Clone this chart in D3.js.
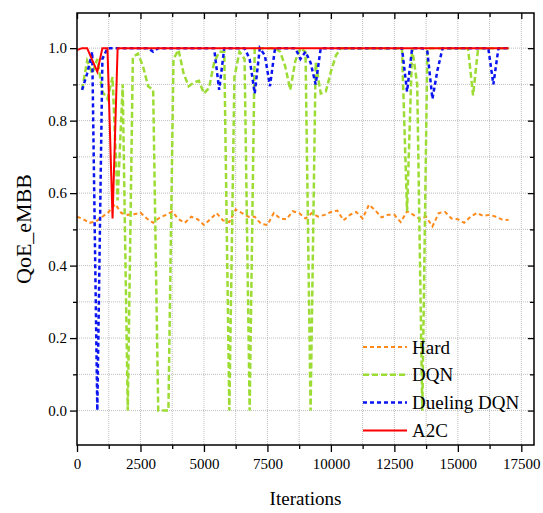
<!DOCTYPE html>
<html>
<head>
<meta charset="utf-8">
<script src="https://d3js.org/d3.v7.min.js"></script>
<style>
  body { margin: 0; background: #fff; }
</style>
</head>
<body>
<svg id="chart" width="543" height="513"></svg>
<script>
// Data
const seriesNames = ["Hard", "DQN", "Dueling DQN", "A2C"];

// Hard: one point every 250 iterations starting at 0
const hardStart = 0, hardStep = 250;
const hardValues = [
  0.535, 0.528, 0.518, 0.522, 0.535, 0.548, 0.570, 0.545, 0.540, 0.542,
  0.546, 0.530, 0.518, 0.532, 0.540, 0.549, 0.528, 0.518, 0.535, 0.528,
  0.512, 0.528, 0.545, 0.525, 0.520, 0.555, 0.545, 0.535, 0.535, 0.515,
  0.512, 0.545, 0.530, 0.528, 0.550, 0.545, 0.530, 0.545, 0.535, 0.540,
  0.548, 0.552, 0.525, 0.540, 0.548, 0.530, 0.568, 0.552, 0.533, 0.540,
  0.540, 0.520, 0.550, 0.540, 0.528, 0.535, 0.508, 0.545, 0.548, 0.530,
  0.528, 0.518, 0.535, 0.545, 0.537, 0.540, 0.535, 0.527, 0.526
];

// DQN / Dueling DQN: one point every 200 iterations starting at 200
const rlStart = 200, rlStep = 200;
const dqnValues = [
  0.885, 0.965, 0.93, 0.97, 0.88, 0.86, 0.92, 0.58, 0.9, 0.0,
  0.975, 0.985, 0.95, 0.895, 0.885, 0.0, 0.0, 0.0, 0.97, 0.995,
  0.93, 0.895, 0.905, 0.91, 0.875, 0.89, 0.96, 0.99, 0.99, 0.0,
  0.92, 0.99, 0.97, 0.0, 1, 1, 1, 1, 1, 0.99,
  0.95, 0.885, 0.965, 1, 0.99, 0.0, 0.96, 0.875, 0.88, 0.935,
  0.98, 1, 1, 1, 1, 1, 1, 1, 1, 1,
  1, 1, 1, 1, 0.55, 1, 0.9, 0.0, 1, 1,
  1, 1, 1, 1, 1, 1, 1, 0.87, 1, 1,
  1, 1, 1, 1, 1
];
const duelingValues = [
  0.885, 0.93, 0.99, 0.0, 0.97, 1, 1, 1, 1, 1,
  1, 1, 1, 1, 0.99, 1, 1, 1, 1, 1,
  1, 1, 1, 1, 1, 1, 1, 0.885, 1, 1,
  1, 1, 1, 0.97, 0.875, 1, 0.98, 0.895, 1, 1,
  1, 1, 1, 0.97, 0.99, 0.96, 0.9, 1, 1, 1,
  1, 1, 1, 1, 1, 1, 1, 1, 1, 1,
  1, 1, 1, 1, 0.88, 1, 1, 1, 0.99, 0.86,
  0.94, 1, 1, 1, 1, 1, 1, 1, 1, 1,
  1, 0.9, 1, 1, 1
];

// A2C: one point every 200 iterations starting at 0
const a2cStart = 0, a2cStep = 200;
const a2cValues = [
  0.995, 1, 1, 0.967, 0.935, 1, 1, 0.53, 1, 1,
  1, 1, 1, 1, 1, 1, 1, 1, 1, 1,
  1, 1, 1, 1, 1, 1, 1, 1, 1, 1,
  1, 1, 1, 1, 1, 1, 1, 1, 1, 1,
  1, 1, 1, 1, 1, 1, 1, 1, 1, 1,
  1, 1, 1, 1, 1, 1, 1, 1, 1, 1,
  1, 1, 1, 1, 1, 1, 1, 1, 1, 1,
  1, 1, 1, 1, 1, 1, 1, 1, 1, 1,
  1, 1, 1, 1, 1, 1
];

const xTicks = [0, 2500, 5000, 7500, 10000, 12500, 15000, 17500];
const yTicks = [0.0, 0.2, 0.4, 0.6, 0.8, 1.0];
const xMinor = [1250, 3750, 6250, 8750, 11250, 13750, 16250];
const yMinor = [0.1, 0.3, 0.5, 0.7, 0.9];

// Layout
const LEFT = 77, RIGHT = 534, TOP = 13, BOTTOM = 445;
const FONT = "'Liberation Serif', Tinos, 'Times New Roman', 'DejaVu Serif', serif";

const svg = d3.select("#chart");
const x = d3.scaleLinear().domain([0, 18000]).range([LEFT, RIGHT]);
const y = d3.scaleLinear().domain([-0.095, 1.097]).range([BOTTOM, TOP]);

// Grid (dotted, major + minor)
const grid = svg.append("g").attr("class", "grid");
grid.selectAll(".gx")
  .data(xTicks.concat(xMinor).filter(d => d > 0))
  .enter().append("line")
  .attr("x1", d => x(d)).attr("x2", d => x(d))
  .attr("y1", TOP).attr("y2", BOTTOM)
  .attr("stroke", "#bdbdbd").attr("stroke-width", 1)
  .attr("stroke-dasharray", "1,1");
grid.selectAll(".gy")
  .data(yTicks.concat(yMinor))
  .enter().append("line")
  .attr("x1", LEFT).attr("x2", RIGHT)
  .attr("y1", d => y(d)).attr("y2", d => y(d))
  .attr("stroke", "#bdbdbd").attr("stroke-width", 1)
  .attr("stroke-dasharray", "1,1");

// Series
const toPoints = (vals, start, step) => vals.map((v, i) => [start + i * step, v]);
const line = d3.line().x(d => x(d[0])).y(d => y(d[1]));

const series = [
  { name: seriesNames[0], pts: toPoints(hardValues, hardStart, hardStep), color: "#ff8a1c", width: 2, dash: "4,3" },
  { name: seriesNames[1], pts: toPoints(dqnValues, rlStart, rlStep), color: "#9ddc35", width: 2.5, dash: "6,3" },
  { name: seriesNames[2], pts: toPoints(duelingValues, rlStart, rlStep), color: "#0a14f0", width: 2.5, dash: "4,3" },
  { name: seriesNames[3], pts: toPoints(a2cValues, a2cStart, a2cStep), color: "#ff0000", width: 2, dash: null }
];

svg.append("clipPath").attr("id", "clip")
  .append("rect").attr("x", LEFT).attr("y", TOP)
  .attr("width", RIGHT - LEFT).attr("height", BOTTOM - TOP);
const plot = svg.append("g").attr("clip-path", "url(#clip)");

series.forEach(s => {
  plot.append("path")
    .datum(s.pts)
    .attr("fill", "none")
    .attr("stroke", s.color)
    .attr("stroke-width", s.width)
    .attr("stroke-dasharray", s.dash)
    .attr("d", line);
});

// Axes: outward on bottom/left, inward on top/right
const fmtY = d3.format(".1f");
svg.append("g").attr("transform", `translate(0,${BOTTOM})`)
  .call(d3.axisBottom(x).tickValues(xTicks).tickSize(7).tickPadding(6).tickFormat(d3.format("d")));
svg.append("g").attr("transform", `translate(0,${BOTTOM})`)
  .call(d3.axisBottom(x).tickValues(xMinor).tickSize(4).tickFormat(""));
svg.append("g").attr("transform", `translate(${LEFT},0)`)
  .call(d3.axisLeft(y).tickValues(yTicks).tickSize(7).tickPadding(3).tickFormat(fmtY));
svg.append("g").attr("transform", `translate(${LEFT},0)`)
  .call(d3.axisLeft(y).tickValues(yMinor).tickSize(4).tickFormat(""));
svg.append("g").attr("transform", `translate(0,${TOP})`)
  .call(d3.axisTop(x).tickValues(xTicks).tickSize(-6).tickFormat(""));
svg.append("g").attr("transform", `translate(0,${TOP})`)
  .call(d3.axisTop(x).tickValues(xMinor).tickSize(-4).tickFormat(""));
svg.append("g").attr("transform", `translate(${RIGHT},0)`)
  .call(d3.axisRight(y).tickValues(yTicks).tickSize(-6).tickFormat(""));
svg.append("g").attr("transform", `translate(${RIGHT},0)`)
  .call(d3.axisRight(y).tickValues(yMinor).tickSize(-4).tickFormat(""));

svg.selectAll(".domain").remove();
svg.selectAll(".tick line").attr("stroke", "#000").attr("stroke-width", 1.3);
svg.selectAll(".tick text")
  .attr("font-family", FONT).attr("font-size", 15).attr("fill", "#000");

// Frame
svg.append("rect")
  .attr("x", LEFT).attr("y", TOP)
  .attr("width", RIGHT - LEFT).attr("height", BOTTOM - TOP)
  .attr("fill", "none").attr("stroke", "#000").attr("stroke-width", 1.5);

// Axis titles
svg.append("text")
  .attr("x", (LEFT + RIGHT) / 2).attr("y", 505)
  .attr("text-anchor", "middle")
  .attr("font-family", FONT).attr("font-size", 19)
  .text("Iterations");
svg.append("text")
  .attr("transform", `translate(31,${(TOP + BOTTOM) / 2}) rotate(-90)`)
  .attr("text-anchor", "middle")
  .attr("font-family", FONT).attr("font-size", 22)
  .text("QoE_eMBB");

// Legend
const legend = svg.append("g").attr("transform", "translate(363,347)");
series.forEach((s, i) => {
  const g = legend.append("g").attr("transform", `translate(0,${i * 27.8})`);
  g.append("line")
    .attr("x1", 0).attr("x2", 44).attr("y1", 0).attr("y2", 0)
    .attr("stroke", s.color).attr("stroke-width", s.width)
    .attr("stroke-dasharray", s.dash);
  g.append("text")
    .attr("x", 49).attr("y", 0).attr("dy", "0.35em")
    .attr("font-family", FONT).attr("font-size", 19)
    .text(s.name);
});
</script>
</body>
</html>
